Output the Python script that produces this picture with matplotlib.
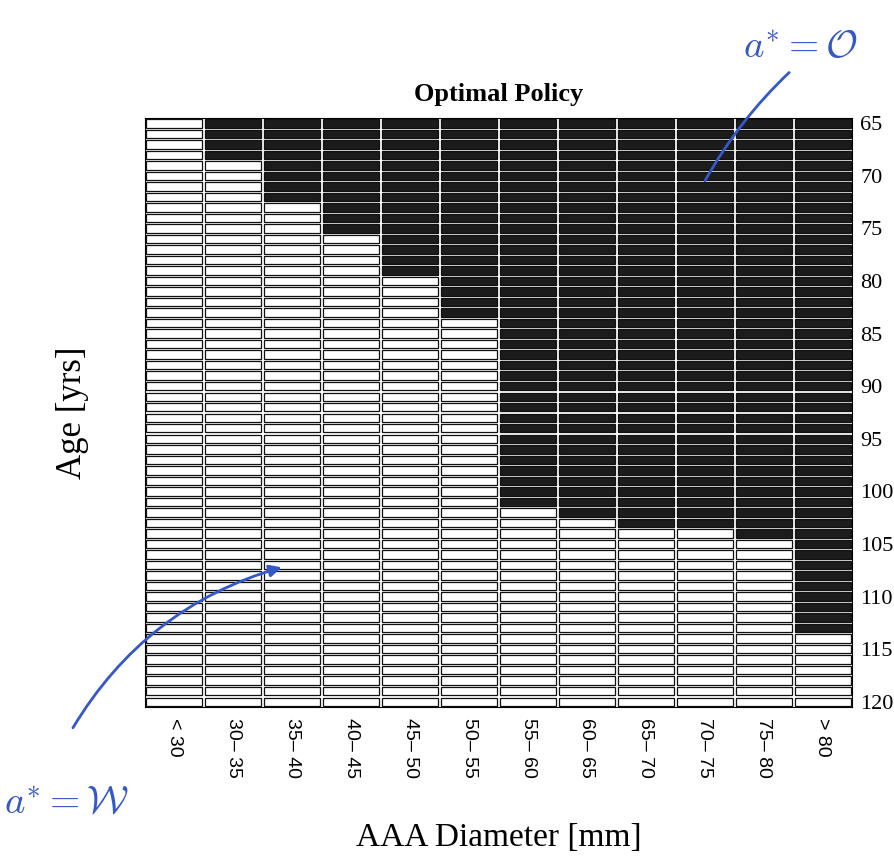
import numpy as np
import matplotlib
matplotlib.use('Agg')
import matplotlib.pyplot as plt

# AAA diameter bins (columns) and ages (rows)
diam_bins = ['< 30', '30\u2013 35', '35\u2013 40', '40\u2013 45', '45\u2013 50', '50\u2013 55',
             '55\u2013 60', '60\u2013 65', '65\u2013 70', '70\u2013 75', '75\u2013 80', '> 80']
ages = np.arange(65, 121)
# number of ages, counted from 65, where the optimal action is to operate (black)
n_operate = [0, 4, 8, 11, 15, 19, 37, 38, 39, 39, 40, 49]
age_ticks = [65, 70, 75, 80, 85, 90, 95, 100, 105, 110, 115, 120]

DARK = '#1c1c1c'
INK = '#3558c8'
SERIF = ['Liberation Serif', 'DejaVu Serif']
plt.rcParams['mathtext.fontset'] = 'cm'

fig = plt.figure(figsize=(8.94, 8.61), dpi=100)
ax = fig.add_axes([0.1622, 0.1789, 0.7909, 0.6840])

for j, n in enumerate(n_operate):
    operate = ages < ages[0] + n
    colors = [DARK if o else 'white' for o in operate]
    ax.bar(np.full(len(ages), j), 0.8, bottom=ages - 0.4, width=0.95,
           color=colors, edgecolor='#111111', linewidth=0.9)

ax.set_xlim(-0.5, len(diam_bins) - 0.5)
ax.set_ylim(ages[-1] + 0.5, ages[0] - 0.5)

ax.set_xticks(range(len(diam_bins)))
ax.set_xticklabels(diam_bins, rotation=-90, family=['Liberation Sans', 'DejaVu Sans'], fontsize=14)
ax.tick_params(axis='x', length=0, pad=8)

ax.yaxis.tick_right()
ax.set_yticks(age_ticks)
ax.set_yticklabels([str(a) for a in age_ticks], family=SERIF, fontsize=16)
ax.tick_params(axis='y', length=0, pad=6)

for s in ax.spines.values():
    s.set_linewidth(0.8)

ax.set_title('Optimal Policy', family=SERIF, fontweight='bold', fontsize=19, pad=12)
ax.yaxis.set_label_position('left')
ax.set_ylabel('Age [yrs]', family=SERIF, fontsize=25, labelpad=40)
ax.set_xlabel('AAA Diameter [mm]', family=SERIF, fontsize=24, labelpad=32)

# handwritten notes
fig.text(0.895, 0.945, r'$a^{*}=\mathcal{O}$', color=INK, fontsize=28, ha='center', va='center')
fig.text(0.075, 0.068, r'$a^{*}=\mathcal{W}$', color=INK, fontsize=28, ha='center', va='center')
fig.add_artist(matplotlib.patches.FancyArrowPatch(
    (0.885, 0.918), (0.787, 0.787), transform=fig.transFigure, arrowstyle='-',
    connectionstyle='arc3,rad=0.08', color=INK, linewidth=2))
fig.add_artist(matplotlib.patches.FancyArrowPatch(
    (0.080, 0.152), (0.318, 0.342), transform=fig.transFigure, arrowstyle='-|>',
    mutation_scale=18, connectionstyle='arc3,rad=-0.2', color=INK, linewidth=2))

fig.savefig('out.png', dpi=100)
